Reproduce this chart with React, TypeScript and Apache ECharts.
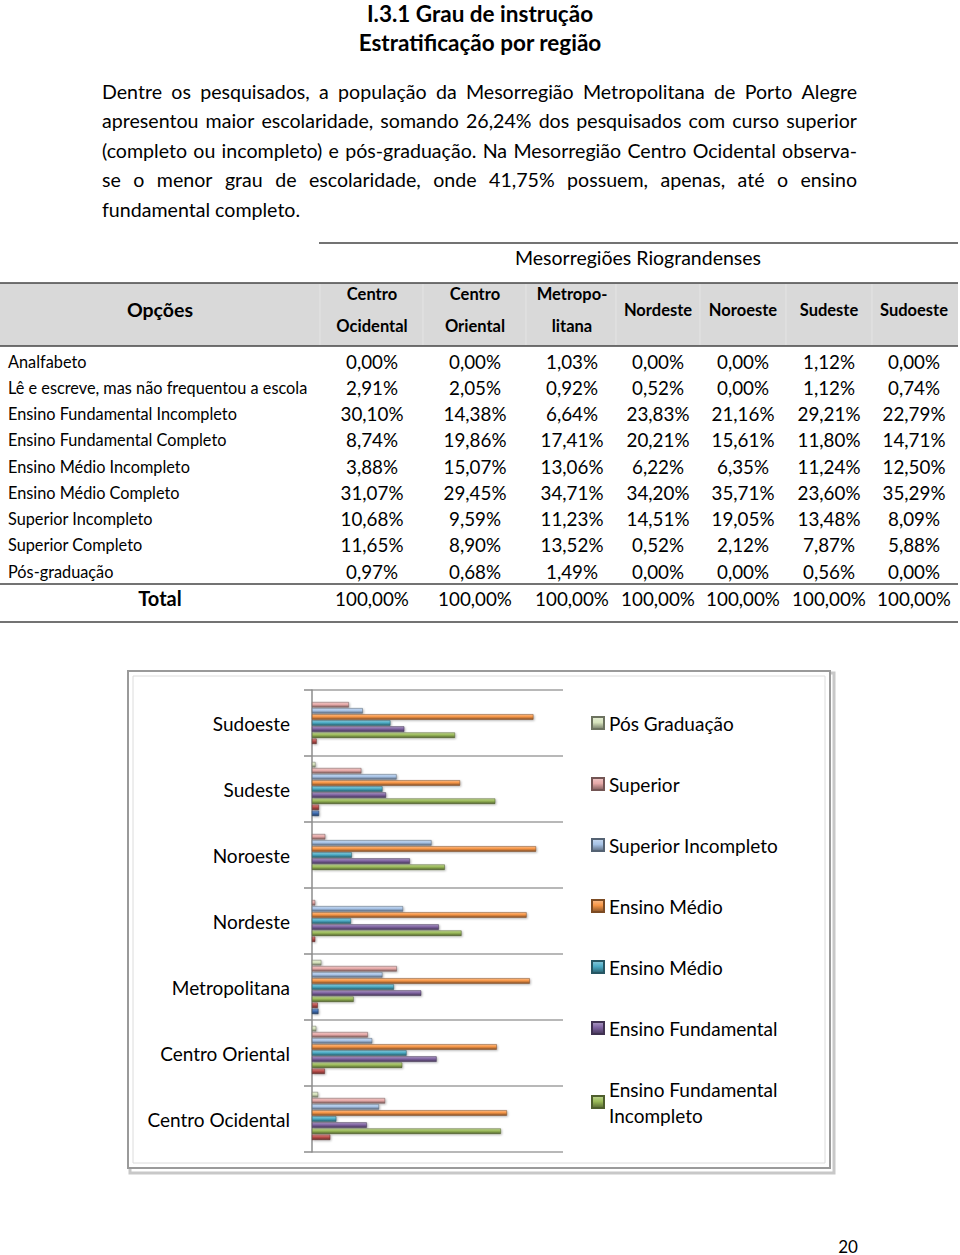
import React, { useEffect, useRef } from "react";
import * as echarts from "echarts";

const FONT = "Lato, 'Open Sans', sans-serif";

const regions = ["Centro Ocidental", "Centro Oriental", "Metropolitana", "Nordeste", "Noroeste", "Sudeste", "Sudoeste"];
const tableRegionHeaders = [["Centro", "Ocidental"], ["Centro", "Oriental"], ["Metropo-", "litana"], ["Nordeste"], ["Noroeste"], ["Sudeste"], ["Sudoeste"]];

const analfabeto = [0.0, 0.0, 1.03, 0.0, 0.0, 1.12, 0.0];
const leEscreve = [2.91, 2.05, 0.92, 0.52, 0.0, 1.12, 0.74];
const fundIncompleto = [30.1, 14.38, 6.64, 23.83, 21.16, 29.21, 22.79];
const fundCompleto = [8.74, 19.86, 17.41, 20.21, 15.61, 11.8, 14.71];
const medioIncompleto = [3.88, 15.07, 13.06, 6.22, 6.35, 11.24, 12.5];
const medioCompleto = [31.07, 29.45, 34.71, 34.2, 35.71, 23.6, 35.29];
const superiorIncompleto = [10.68, 9.59, 11.23, 14.51, 19.05, 13.48, 8.09];
const superiorCompleto = [11.65, 8.9, 13.52, 0.52, 2.12, 7.87, 5.88];
const posGraduacao = [0.97, 0.68, 1.49, 0.0, 0.0, 0.56, 0.0];
const totals = [100, 100, 100, 100, 100, 100, 100];

const tableRowLabels = [
  "Analfabeto",
  "Lê e escreve, mas não frequentou a escola",
  "Ensino Fundamental Incompleto",
  "Ensino Fundamental Completo",
  "Ensino Médio Incompleto",
  "Ensino Médio Completo",
  "Superior Incompleto",
  "Superior Completo",
  "Pós-graduação",
];
const tableRows = [analfabeto, leEscreve, fundIncompleto, fundCompleto, medioIncompleto, medioCompleto, superiorIncompleto, superiorCompleto, posGraduacao];

// chart series, listed top to bottom inside each group
const seriesNames = [
  "Pós Graduação",
  "Superior",
  "Superior Incompleto",
  "Ensino Médio Completo",
  "Ensino Médio Incompleto",
  "Ensino Fundamental",
  "Ensino Fundamental Incompleto",
  "Lê e escreve",
  "Analfabeto",
];
const seriesData = [posGraduacao, superiorCompleto, superiorIncompleto, medioCompleto, medioIncompleto, fundCompleto, fundIncompleto, leEscreve, analfabeto];
const seriesColors = ["#d7e4bd", "#e6a9a8", "#a7c3e6", "#f79646", "#4bacc6", "#8064a2", "#9bbb59", "#c0504d", "#3f6fb5"];
const legendNames = ["Pós Graduação", "Superior", "Superior Incompleto", "Ensino Médio Completo", "Ensino Médio Incompleto", "Ensino Fundamental", "Ensino Fundamental Incompleto"];
const legendLabels: Record<string, string> = {
  "Pós Graduação": "Pós Graduação",
  "Superior": "Superior",
  "Superior Incompleto": "Superior Incompleto",
  "Ensino Médio Completo": "Ensino Médio",
  "Ensino Médio Incompleto": "Ensino Médio",
  "Ensino Fundamental": "Ensino Fundamental",
  "Ensino Fundamental Incompleto": "Ensino Fundamental\nIncompleto",
};

const titleLines = ["I.3.1 Grau de instrução", "Estratificação por região"];
const paragraphLines = [
  "Dentre os pesquisados, a população da Mesorregião Metropolitana de Porto Alegre",
  "apresentou maior escolaridade, somando 26,24% dos pesquisados com curso superior",
  "(completo ou incompleto) e pós-graduação. Na Mesorregião Centro Ocidental observa-",
  "se o menor grau de escolaridade, onde 41,75% possuem, apenas, até o ensino",
  "fundamental completo.",
];

function fmt(v: number) {
  return v.toFixed(2).replace(".", ",") + "%";
}

function shade(hex: string, f: number) {
  const n = parseInt(hex.slice(1), 16);
  let r = (n >> 16) & 255, g = (n >> 8) & 255, b = n & 255;
  if (f >= 0) {
    r = Math.round(r + (255 - r) * f); g = Math.round(g + (255 - g) * f); b = Math.round(b + (255 - b) * f);
  } else {
    r = Math.round(r * (1 + f)); g = Math.round(g * (1 + f)); b = Math.round(b * (1 + f));
  }
  return `rgb(${r},${g},${b})`;
}

function txt(text: string, x: number, y: number, size: number, opts: any = {}) {
  const align = opts.align || "left";
  return {
    type: "text",
    x,
    y,
    silent: true,
    style: {
      text,
      fill: opts.color || "#000",
      fontSize: size,
      fontFamily: FONT,
      fontWeight: opts.bold ? "bold" : "normal",
      align,
      verticalAlign: "middle",
      textAlign: align,
      textVerticalAlign: "middle",
    },
  };
}

function line(x1: number, y1: number, x2: number, y2: number, color: string, w: number) {
  return { type: "line", silent: true, shape: { x1, y1, x2, y2 }, style: { stroke: color, lineWidth: w } };
}

export default function App() {
  const ref = useRef<HTMLDivElement>(null);
  useEffect(() => {
    if (!ref.current) return;
    const chart = echarts.init(ref.current, null, { renderer: "svg" });
    const ctx = document.createElement("canvas").getContext("2d")!;
    const measure = (t: string, size: number) => {
      ctx.font = `${size}px Lato`;
      return ctx.measureText(t).width;
    };

    const g: any[] = [];
    // title
    g.push(txt(titleLines[0], 480, 13, 22.5, { bold: true, align: "center" }));
    g.push(txt(titleLines[1], 480, 42, 22.5, { bold: true, align: "center" }));

    // justified paragraph
    const pSize = 19.6;
    const pLeft = 102, pRight = 857;
    paragraphLines.forEach((ln, i) => {
      const y = 91 + i * 29.5;
      if (i === paragraphLines.length - 1) {
        g.push(txt(ln, pLeft, y, pSize));
        return;
      }
      const words = ln.split(" ");
      const widths = words.map((w) => measure(w, pSize));
      const sum = widths.reduce((a, b) => a + b, 0);
      const gap = (pRight - pLeft - sum) / (words.length - 1);
      let x = pLeft;
      words.forEach((w, k) => {
        g.push(txt(w, x, y, pSize));
        x += widths[k] + gap;
      });
    });

    // table
    const colX = [372, 475, 572, 658, 743, 829, 914];
    g.push(line(319, 243, 958, 243, "#444", 1.5));
    g.push(txt("Mesorregiões Riograndenses", 638, 257, 19.5, { align: "center" }));
    g.push({ type: "rect", silent: true, shape: { x: 0, y: 283, width: 958, height: 63 }, style: { fill: "#d9d9d9" } });
    [320, 423, 526, 616, 700, 786, 872].forEach((x) => g.push(line(x, 284, x, 345, "#e4e4e4", 1)));
    g.push(line(0, 283, 958, 283, "#444", 1.5));
    g.push(line(0, 346, 958, 346, "#444", 1.5));
    g.push(txt("Opções", 160, 309, 19.5, { bold: true, align: "center" }));
    tableRegionHeaders.forEach((h, i) => {
      if (h.length === 2) {
        g.push(txt(h[0], colX[i], 294, 16.5, { bold: true, align: "center" }));
        g.push(txt(h[1], colX[i], 326, 16.5, { bold: true, align: "center" }));
      } else {
        g.push(txt(h[0], colX[i], 310, 16.5, { bold: true, align: "center" }));
      }
    });
    tableRows.forEach((row, r) => {
      const y = 361 + r * 26.25;
      g.push(txt(tableRowLabels[r], 8, y, 16.3));
      row.forEach((v, c) => g.push(txt(fmt(v), colX[c], y, 18.8, { align: "center" })));
    });
    g.push(line(0, 584, 958, 584, "#444", 1.5));
    g.push(txt("Total", 160, 598, 20, { bold: true, align: "center" }));
    totals.forEach((v, c) => g.push(txt(fmt(v), colX[c], 598, 18.8, { align: "center" })));
    g.push(line(0, 622, 958, 622, "#444", 1.5));

    // chart frame
    g.push({ type: "rect", silent: true, z: -1, shape: { x: 130, y: 673, width: 704, height: 500 }, style: { fill: "none", stroke: "#c8c8c8", lineWidth: 3 } });
    g.push({ type: "rect", silent: true, z: -1, shape: { x: 128, y: 671, width: 702, height: 497 }, style: { fill: "#fff", stroke: "#9a9a9a", lineWidth: 2 } });
    g.push({ type: "rect", silent: true, z: -1, shape: { x: 133, y: 676, width: 692, height: 487 }, style: { fill: "none", stroke: "#dcdcdc", lineWidth: 1 } });

    // page number
    g.push(txt("20", 848, 1246, 17, { align: "center" }));

    const series = seriesNames.map((name, i) => {
      const c = seriesColors[i];
      return {
        name,
        type: "bar",
        data: seriesData[i],
        barCategoryGap: "18%",
        barGap: "12%",
        itemStyle: {
          color: new echarts.graphic.LinearGradient(0, 0, 0, 1, [
            { offset: 0, color: shade(c, 0.35) },
            { offset: 0.45, color: c },
            { offset: 1, color: shade(c, -0.45) },
          ]),
          borderColor: shade(c, -0.5),
          borderWidth: 0.5,
          shadowColor: "rgba(0,0,0,0.3)",
          shadowBlur: 2,
          shadowOffsetX: 1,
          shadowOffsetY: 1,
        },
      };
    });

    chart.setOption({
      animation: false,
      backgroundColor: "#fff",
      textStyle: { fontFamily: FONT },
      graphic: { elements: g },
      grid: { left: 312, top: 690, width: 251, height: 462, containLabel: false },
      xAxis: { type: "value", min: 0, max: 40, show: false },
      yAxis: {
        type: "category",
        data: regions,
        axisLine: { show: true, lineStyle: { color: "#8c8c8c", width: 1.5 } },
        axisTick: { show: true, length: 8, lineStyle: { color: "#8c8c8c", width: 1.5 } },
        splitLine: { show: true, lineStyle: { color: "#a0a0a0", width: 1.5 } },
        axisLabel: { color: "#000", fontSize: 19, fontFamily: FONT, margin: 22 },
      },
      legend: {
        orient: "vertical",
        left: 586,
        top: 705,
        data: legendNames,
        icon: "rect",
        itemWidth: 12,
        itemHeight: 12,
        itemGap: 35,
        formatter: (n: string) => legendLabels[n] || n,
        textStyle: { color: "#000", fontSize: 19, fontFamily: FONT, lineHeight: 26 },
        selectedMode: false,
      },
      series,
    });
    return () => chart.dispose();
  }, []);
  return <div ref={ref} style={{ position: "absolute", left: 0, top: 0, width: 960, height: 1255 }} />;
}
